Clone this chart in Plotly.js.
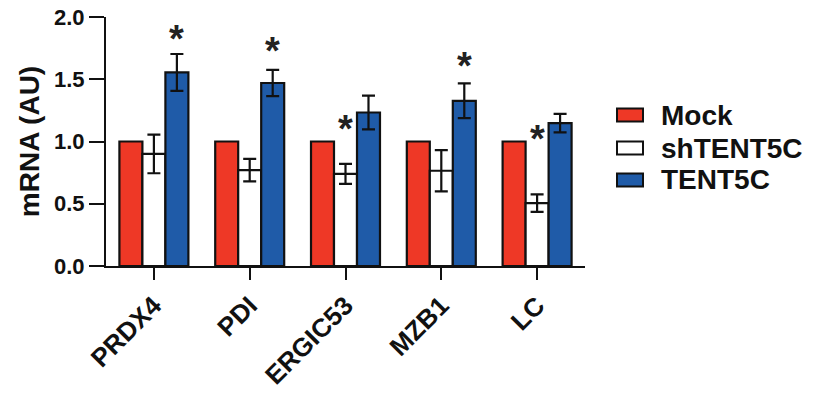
<!DOCTYPE html>
<html>
<head>
<meta charset="utf-8">
<script src="https://cdn.plot.ly/plotly-3.0.1.min.js"></script>
<style>html,body{margin:0;padding:0;background:#fff;}#chart{width:825px;height:394px;}</style>
</head>
<body>
<div id="chart"></div>
<script>
// ---- data ----
const categories = ['PRDX4', 'PDI', 'ERGIC53', 'MZB1', 'LC'];
const seriesNames = ['Mock', 'shTENT5C', 'TENT5C'];
const mockValues = [1.0, 1.0, 1.0, 1.0, 1.0];
const shValues = [0.90, 0.77, 0.74, 0.765, 0.505];
const shErrors = [0.155, 0.09, 0.08, 0.165, 0.07];
const tentValues = [1.555, 1.47, 1.233, 1.327, 1.148];
const tentErrors = [0.148, 0.105, 0.135, 0.14, 0.074];
const sigSeriesIndex = [2, 2, 1, 2, 1];      // bar that carries the asterisk
const sigLevels = [1.87, 1.775, 1.15, 1.655, 1.07]; // asterisk height (AU)
const yTickValues = [0, 0.5, 1.0, 1.5, 2.0];
const yTickLabels = ['0.0', '0.5', '1.0', '1.5', '2.0'];

// ---- styling ----
const colors = ['#EE3826', '#FFFFFF', '#1F5BA8'];
const FONT = 'Liberation Sans, Arial, Helvetica, sans-serif';
const BARGAP = 0.28;
const barW = (1 - BARGAP) / 3;

const values = [mockValues, shValues, tentValues];
const errors = [null, shErrors, tentErrors];

const traces = values.map((v, i) => ({
  type: 'bar',
  name: seriesNames[i],
  x: categories,
  y: v,
  marker: { color: colors[i], line: { color: '#111', width: 2.2 } },
  error_y: errors[i] ? { type: 'data', array: errors[i], visible: true, color: '#111', thickness: 2.2, width: 6.5 } : { visible: false },
  showlegend: false,
  hoverinfo: 'skip'
}));

const annotations = categories.map((c, k) => ({
  x: k + (sigSeriesIndex[k] - 1) * barW,
  y: sigLevels[k],
  xref: 'x', yref: 'y',
  text: '<b>*</b>',
  showarrow: false,
  font: { family: FONT, size: 38, color: '#222' },
  xanchor: 'center', yanchor: 'middle',
  yshift: -6
}));

// custom legend (paper coordinates)
const L = 106, R = 585, T = 17, B = 266;
const px = v => (v - L) / (R - L);
const py = v => (B - v) / (B - T);
const legendRows = [115, 148, 180];
const shapes = [];
seriesNames.forEach((n, i) => {
  shapes.push({
    type: 'rect', xref: 'paper', yref: 'paper',
    x0: px(617), x1: px(643), y0: py(legendRows[i] + 6.5), y1: py(legendRows[i] - 6.5),
    fillcolor: colors[i], line: { color: '#111', width: 2 }
  });
  annotations.push({
    xref: 'paper', yref: 'paper', x: px(659), y: py(legendRows[i]),
    text: '<b>' + n + '</b>', showarrow: false, xanchor: 'left', yanchor: 'middle',
    font: { family: FONT, size: 28, color: '#111' }
  });
});

const layout = {
  width: 825, height: 394,
  margin: { l: L, r: 825 - R, t: T, b: 394 - B, pad: 0 },
  paper_bgcolor: '#fff', plot_bgcolor: '#fff',
  barmode: 'group', bargap: BARGAP, bargroupgap: 0,
  showlegend: false,
  font: { family: FONT, color: '#111' },
  xaxis: {
    type: 'category', range: [-0.5, 4.5],
    showline: true, linecolor: '#111', linewidth: 2,
    ticks: 'outside', ticklen: 12, tickwidth: 2, tickcolor: '#111',
    tickangle: -45, showgrid: false, zeroline: false,
    tickfont: { family: FONT, size: 26, color: '#111', weight: 'bold' }
  },
  yaxis: {
    range: [0, 2.0], tickvals: yTickValues, ticktext: yTickLabels,
    showline: true, linecolor: '#111', linewidth: 2,
    ticks: 'outside', ticklen: 15, tickwidth: 2, tickcolor: '#111',
    showgrid: false, zeroline: false,
    tickfont: { family: FONT, size: 22, color: '#111', weight: 'bold' },
    title: { text: '<b>mRNA (AU)</b>', font: { family: FONT, size: 28, color: '#111' }, standoff: 6 }
  },
  annotations: annotations,
  shapes: shapes
};

Plotly.newPlot('chart', traces, layout, { staticPlot: true, displayModeBar: false });
</script>
</body>
</html>
